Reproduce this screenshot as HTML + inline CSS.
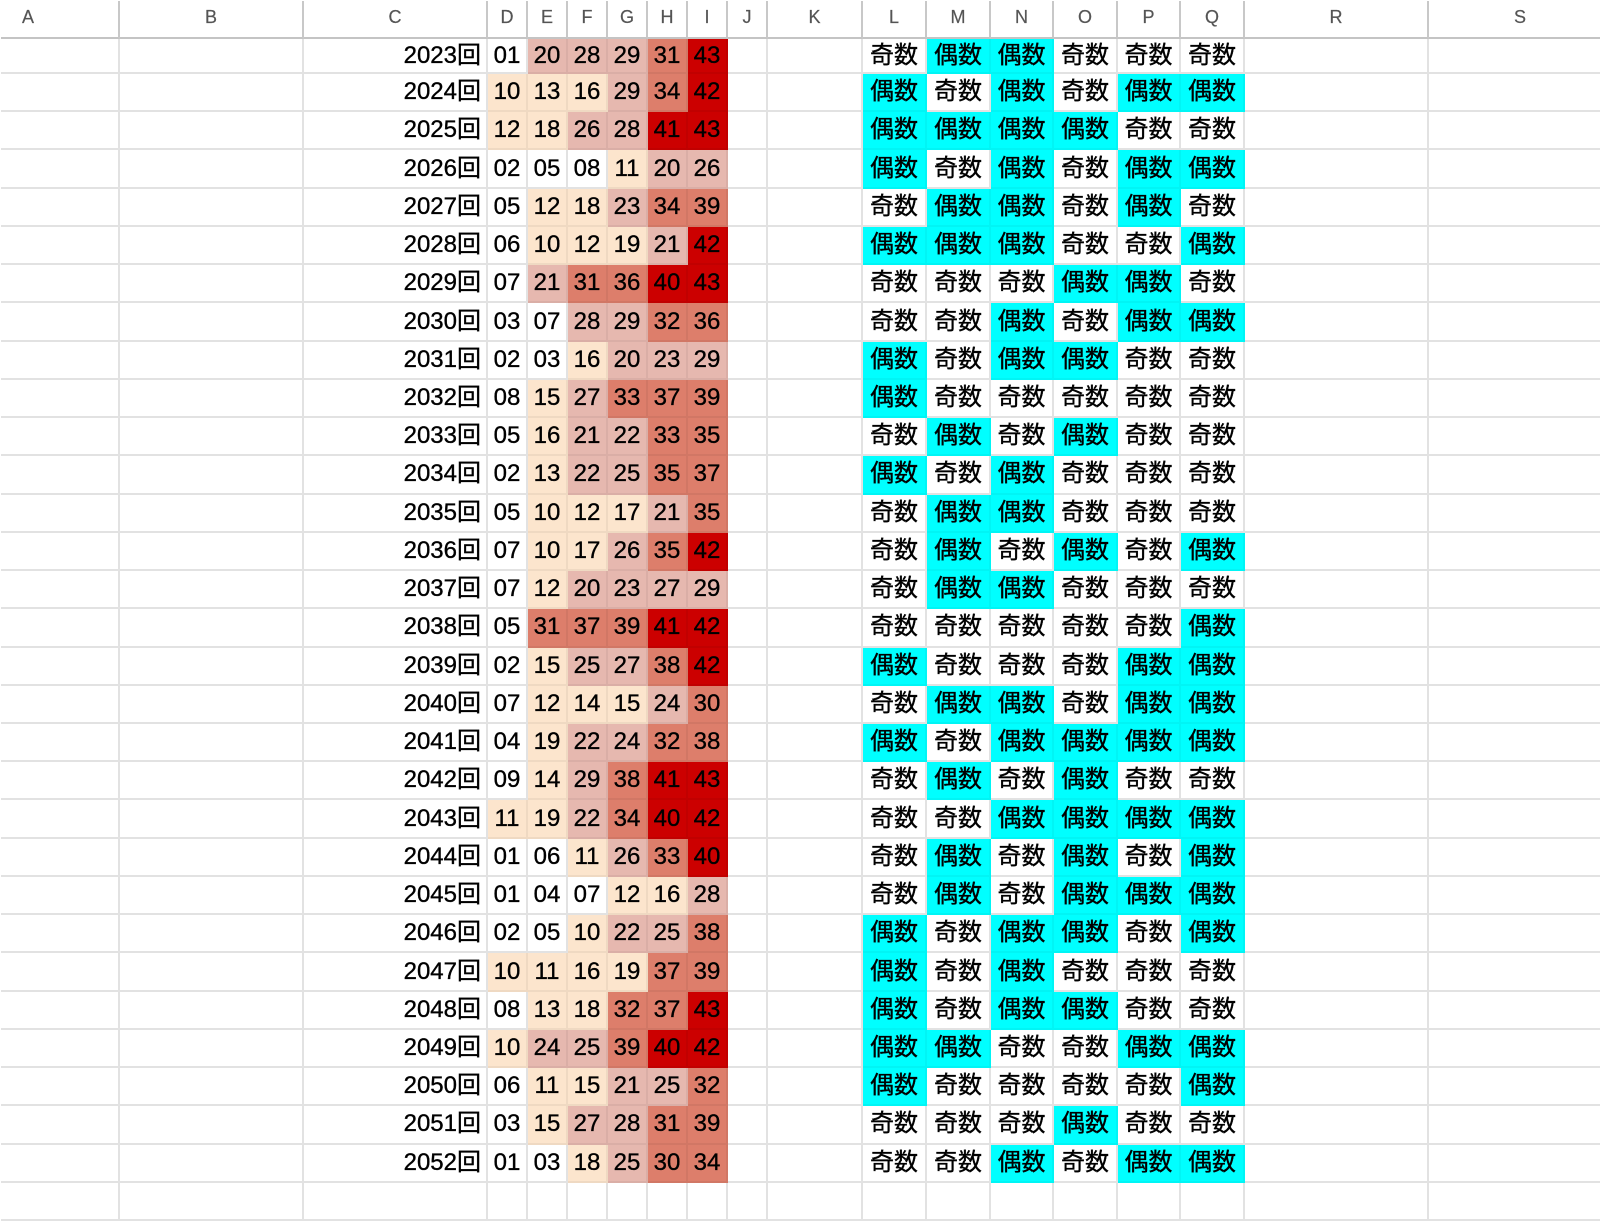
<!DOCTYPE html>
<html><head><meta charset="utf-8">
<style>
html,body{margin:0;padding:0}
body{width:1600px;height:1200px;overflow:hidden;background:#fff;position:relative}
.g{position:absolute;left:1px;top:1px;display:grid;
grid-template-columns:119px 184px 184px 40px 40px 40px 40px 40px 40px 40px 95px 64px 64px 63px 64px 63px 64px 184px 184px;
grid-template-rows:38px 35px repeat(30,38.24px);
font-family:"Liberation Sans","Noto Sans CJK JP",sans-serif;font-size:24px;color:#000}
.g>i{font-style:normal;box-sizing:border-box;border-right:2px solid #e2e2e2;border-bottom:2px solid #e2e2e2;display:flex;align-items:center;justify-content:center;white-space:nowrap;overflow:hidden;line-height:24px;-webkit-text-stroke:0.35px #000}
.g>i.h{border-right-color:#c8c8c8;border-bottom-color:#c4c4c4;color:#555;font-size:18px;padding-bottom:4px;-webkit-text-stroke:0.2px #555}
.g>i.ha{justify-content:flex-start;padding-left:21px}
.g>i.y{justify-content:flex-end;padding-right:5px}
.g>i.p{background:#fce5cd;border-color:rgba(0,0,0,0.05)}
.g>i.k{background:#e6b8af;border-color:rgba(0,0,0,0.05)}
.g>i.s{background:#dd7e6b;border-color:rgba(0,0,0,0.05)}
.g>i.r{background:#cc0000;border-color:rgba(0,0,0,0.05)}
.g>i.e{background:#00ffff;border-color:rgba(0,0,0,0.04)}
</style></head><body>
<div class="g">
<i class="h ha">A</i><i class="h">B</i><i class="h">C</i><i class="h">D</i><i class="h">E</i><i class="h">F</i><i class="h">G</i><i class="h">H</i><i class="h">I</i><i class="h">J</i><i class="h">K</i><i class="h">L</i><i class="h">M</i><i class="h">N</i><i class="h">O</i><i class="h">P</i><i class="h">Q</i><i class="h">R</i><i class="h">S</i>

<i></i><i></i><i class="y">2023回</i><i>01</i><i class="k">20</i><i class="k">28</i><i class="k">29</i><i class="s">31</i><i class="r">43</i><i></i><i></i><i>奇数</i><i class="e">偶数</i><i class="e">偶数</i><i>奇数</i><i>奇数</i><i>奇数</i><i></i><i></i>
<i></i><i></i><i class="y">2024回</i><i class="p">10</i><i class="p">13</i><i class="p">16</i><i class="k">29</i><i class="s">34</i><i class="r">42</i><i></i><i></i><i class="e">偶数</i><i>奇数</i><i class="e">偶数</i><i>奇数</i><i class="e">偶数</i><i class="e">偶数</i><i></i><i></i>
<i></i><i></i><i class="y">2025回</i><i class="p">12</i><i class="p">18</i><i class="k">26</i><i class="k">28</i><i class="r">41</i><i class="r">43</i><i></i><i></i><i class="e">偶数</i><i class="e">偶数</i><i class="e">偶数</i><i class="e">偶数</i><i>奇数</i><i>奇数</i><i></i><i></i>
<i></i><i></i><i class="y">2026回</i><i>02</i><i>05</i><i>08</i><i class="p">11</i><i class="k">20</i><i class="k">26</i><i></i><i></i><i class="e">偶数</i><i>奇数</i><i class="e">偶数</i><i>奇数</i><i class="e">偶数</i><i class="e">偶数</i><i></i><i></i>
<i></i><i></i><i class="y">2027回</i><i>05</i><i class="p">12</i><i class="p">18</i><i class="k">23</i><i class="s">34</i><i class="s">39</i><i></i><i></i><i>奇数</i><i class="e">偶数</i><i class="e">偶数</i><i>奇数</i><i class="e">偶数</i><i>奇数</i><i></i><i></i>
<i></i><i></i><i class="y">2028回</i><i>06</i><i class="p">10</i><i class="p">12</i><i class="p">19</i><i class="k">21</i><i class="r">42</i><i></i><i></i><i class="e">偶数</i><i class="e">偶数</i><i class="e">偶数</i><i>奇数</i><i>奇数</i><i class="e">偶数</i><i></i><i></i>
<i></i><i></i><i class="y">2029回</i><i>07</i><i class="k">21</i><i class="s">31</i><i class="s">36</i><i class="r">40</i><i class="r">43</i><i></i><i></i><i>奇数</i><i>奇数</i><i>奇数</i><i class="e">偶数</i><i class="e">偶数</i><i>奇数</i><i></i><i></i>
<i></i><i></i><i class="y">2030回</i><i>03</i><i>07</i><i class="k">28</i><i class="k">29</i><i class="s">32</i><i class="s">36</i><i></i><i></i><i>奇数</i><i>奇数</i><i class="e">偶数</i><i>奇数</i><i class="e">偶数</i><i class="e">偶数</i><i></i><i></i>
<i></i><i></i><i class="y">2031回</i><i>02</i><i>03</i><i class="p">16</i><i class="k">20</i><i class="k">23</i><i class="k">29</i><i></i><i></i><i class="e">偶数</i><i>奇数</i><i class="e">偶数</i><i class="e">偶数</i><i>奇数</i><i>奇数</i><i></i><i></i>
<i></i><i></i><i class="y">2032回</i><i>08</i><i class="p">15</i><i class="k">27</i><i class="s">33</i><i class="s">37</i><i class="s">39</i><i></i><i></i><i class="e">偶数</i><i>奇数</i><i>奇数</i><i>奇数</i><i>奇数</i><i>奇数</i><i></i><i></i>
<i></i><i></i><i class="y">2033回</i><i>05</i><i class="p">16</i><i class="k">21</i><i class="k">22</i><i class="s">33</i><i class="s">35</i><i></i><i></i><i>奇数</i><i class="e">偶数</i><i>奇数</i><i class="e">偶数</i><i>奇数</i><i>奇数</i><i></i><i></i>
<i></i><i></i><i class="y">2034回</i><i>02</i><i class="p">13</i><i class="k">22</i><i class="k">25</i><i class="s">35</i><i class="s">37</i><i></i><i></i><i class="e">偶数</i><i>奇数</i><i class="e">偶数</i><i>奇数</i><i>奇数</i><i>奇数</i><i></i><i></i>
<i></i><i></i><i class="y">2035回</i><i>05</i><i class="p">10</i><i class="p">12</i><i class="p">17</i><i class="k">21</i><i class="s">35</i><i></i><i></i><i>奇数</i><i class="e">偶数</i><i class="e">偶数</i><i>奇数</i><i>奇数</i><i>奇数</i><i></i><i></i>
<i></i><i></i><i class="y">2036回</i><i>07</i><i class="p">10</i><i class="p">17</i><i class="k">26</i><i class="s">35</i><i class="r">42</i><i></i><i></i><i>奇数</i><i class="e">偶数</i><i>奇数</i><i class="e">偶数</i><i>奇数</i><i class="e">偶数</i><i></i><i></i>
<i></i><i></i><i class="y">2037回</i><i>07</i><i class="p">12</i><i class="k">20</i><i class="k">23</i><i class="k">27</i><i class="k">29</i><i></i><i></i><i>奇数</i><i class="e">偶数</i><i class="e">偶数</i><i>奇数</i><i>奇数</i><i>奇数</i><i></i><i></i>
<i></i><i></i><i class="y">2038回</i><i>05</i><i class="s">31</i><i class="s">37</i><i class="s">39</i><i class="r">41</i><i class="r">42</i><i></i><i></i><i>奇数</i><i>奇数</i><i>奇数</i><i>奇数</i><i>奇数</i><i class="e">偶数</i><i></i><i></i>
<i></i><i></i><i class="y">2039回</i><i>02</i><i class="p">15</i><i class="k">25</i><i class="k">27</i><i class="s">38</i><i class="r">42</i><i></i><i></i><i class="e">偶数</i><i>奇数</i><i>奇数</i><i>奇数</i><i class="e">偶数</i><i class="e">偶数</i><i></i><i></i>
<i></i><i></i><i class="y">2040回</i><i>07</i><i class="p">12</i><i class="p">14</i><i class="p">15</i><i class="k">24</i><i class="s">30</i><i></i><i></i><i>奇数</i><i class="e">偶数</i><i class="e">偶数</i><i>奇数</i><i class="e">偶数</i><i class="e">偶数</i><i></i><i></i>
<i></i><i></i><i class="y">2041回</i><i>04</i><i class="p">19</i><i class="k">22</i><i class="k">24</i><i class="s">32</i><i class="s">38</i><i></i><i></i><i class="e">偶数</i><i>奇数</i><i class="e">偶数</i><i class="e">偶数</i><i class="e">偶数</i><i class="e">偶数</i><i></i><i></i>
<i></i><i></i><i class="y">2042回</i><i>09</i><i class="p">14</i><i class="k">29</i><i class="s">38</i><i class="r">41</i><i class="r">43</i><i></i><i></i><i>奇数</i><i class="e">偶数</i><i>奇数</i><i class="e">偶数</i><i>奇数</i><i>奇数</i><i></i><i></i>
<i></i><i></i><i class="y">2043回</i><i class="p">11</i><i class="p">19</i><i class="k">22</i><i class="s">34</i><i class="r">40</i><i class="r">42</i><i></i><i></i><i>奇数</i><i>奇数</i><i class="e">偶数</i><i class="e">偶数</i><i class="e">偶数</i><i class="e">偶数</i><i></i><i></i>
<i></i><i></i><i class="y">2044回</i><i>01</i><i>06</i><i class="p">11</i><i class="k">26</i><i class="s">33</i><i class="r">40</i><i></i><i></i><i>奇数</i><i class="e">偶数</i><i>奇数</i><i class="e">偶数</i><i>奇数</i><i class="e">偶数</i><i></i><i></i>
<i></i><i></i><i class="y">2045回</i><i>01</i><i>04</i><i>07</i><i class="p">12</i><i class="p">16</i><i class="k">28</i><i></i><i></i><i>奇数</i><i class="e">偶数</i><i>奇数</i><i class="e">偶数</i><i class="e">偶数</i><i class="e">偶数</i><i></i><i></i>
<i></i><i></i><i class="y">2046回</i><i>02</i><i>05</i><i class="p">10</i><i class="k">22</i><i class="k">25</i><i class="s">38</i><i></i><i></i><i class="e">偶数</i><i>奇数</i><i class="e">偶数</i><i class="e">偶数</i><i>奇数</i><i class="e">偶数</i><i></i><i></i>
<i></i><i></i><i class="y">2047回</i><i class="p">10</i><i class="p">11</i><i class="p">16</i><i class="p">19</i><i class="s">37</i><i class="s">39</i><i></i><i></i><i class="e">偶数</i><i>奇数</i><i class="e">偶数</i><i>奇数</i><i>奇数</i><i>奇数</i><i></i><i></i>
<i></i><i></i><i class="y">2048回</i><i>08</i><i class="p">13</i><i class="p">18</i><i class="s">32</i><i class="s">37</i><i class="r">43</i><i></i><i></i><i class="e">偶数</i><i>奇数</i><i class="e">偶数</i><i class="e">偶数</i><i>奇数</i><i>奇数</i><i></i><i></i>
<i></i><i></i><i class="y">2049回</i><i class="p">10</i><i class="k">24</i><i class="k">25</i><i class="s">39</i><i class="r">40</i><i class="r">42</i><i></i><i></i><i class="e">偶数</i><i class="e">偶数</i><i>奇数</i><i>奇数</i><i class="e">偶数</i><i class="e">偶数</i><i></i><i></i>
<i></i><i></i><i class="y">2050回</i><i>06</i><i class="p">11</i><i class="p">15</i><i class="k">21</i><i class="k">25</i><i class="s">32</i><i></i><i></i><i class="e">偶数</i><i>奇数</i><i>奇数</i><i>奇数</i><i>奇数</i><i class="e">偶数</i><i></i><i></i>
<i></i><i></i><i class="y">2051回</i><i>03</i><i class="p">15</i><i class="k">27</i><i class="k">28</i><i class="s">31</i><i class="s">39</i><i></i><i></i><i>奇数</i><i>奇数</i><i>奇数</i><i class="e">偶数</i><i>奇数</i><i>奇数</i><i></i><i></i>
<i></i><i></i><i class="y">2052回</i><i>01</i><i>03</i><i class="p">18</i><i class="k">25</i><i class="s">30</i><i class="s">34</i><i></i><i></i><i>奇数</i><i>奇数</i><i class="e">偶数</i><i>奇数</i><i class="e">偶数</i><i class="e">偶数</i><i></i><i></i>
<i></i><i></i><i></i><i></i><i></i><i></i><i></i><i></i><i></i><i></i><i></i><i></i><i></i><i></i><i></i><i></i><i></i><i></i><i></i>
</div>
</body></html>
